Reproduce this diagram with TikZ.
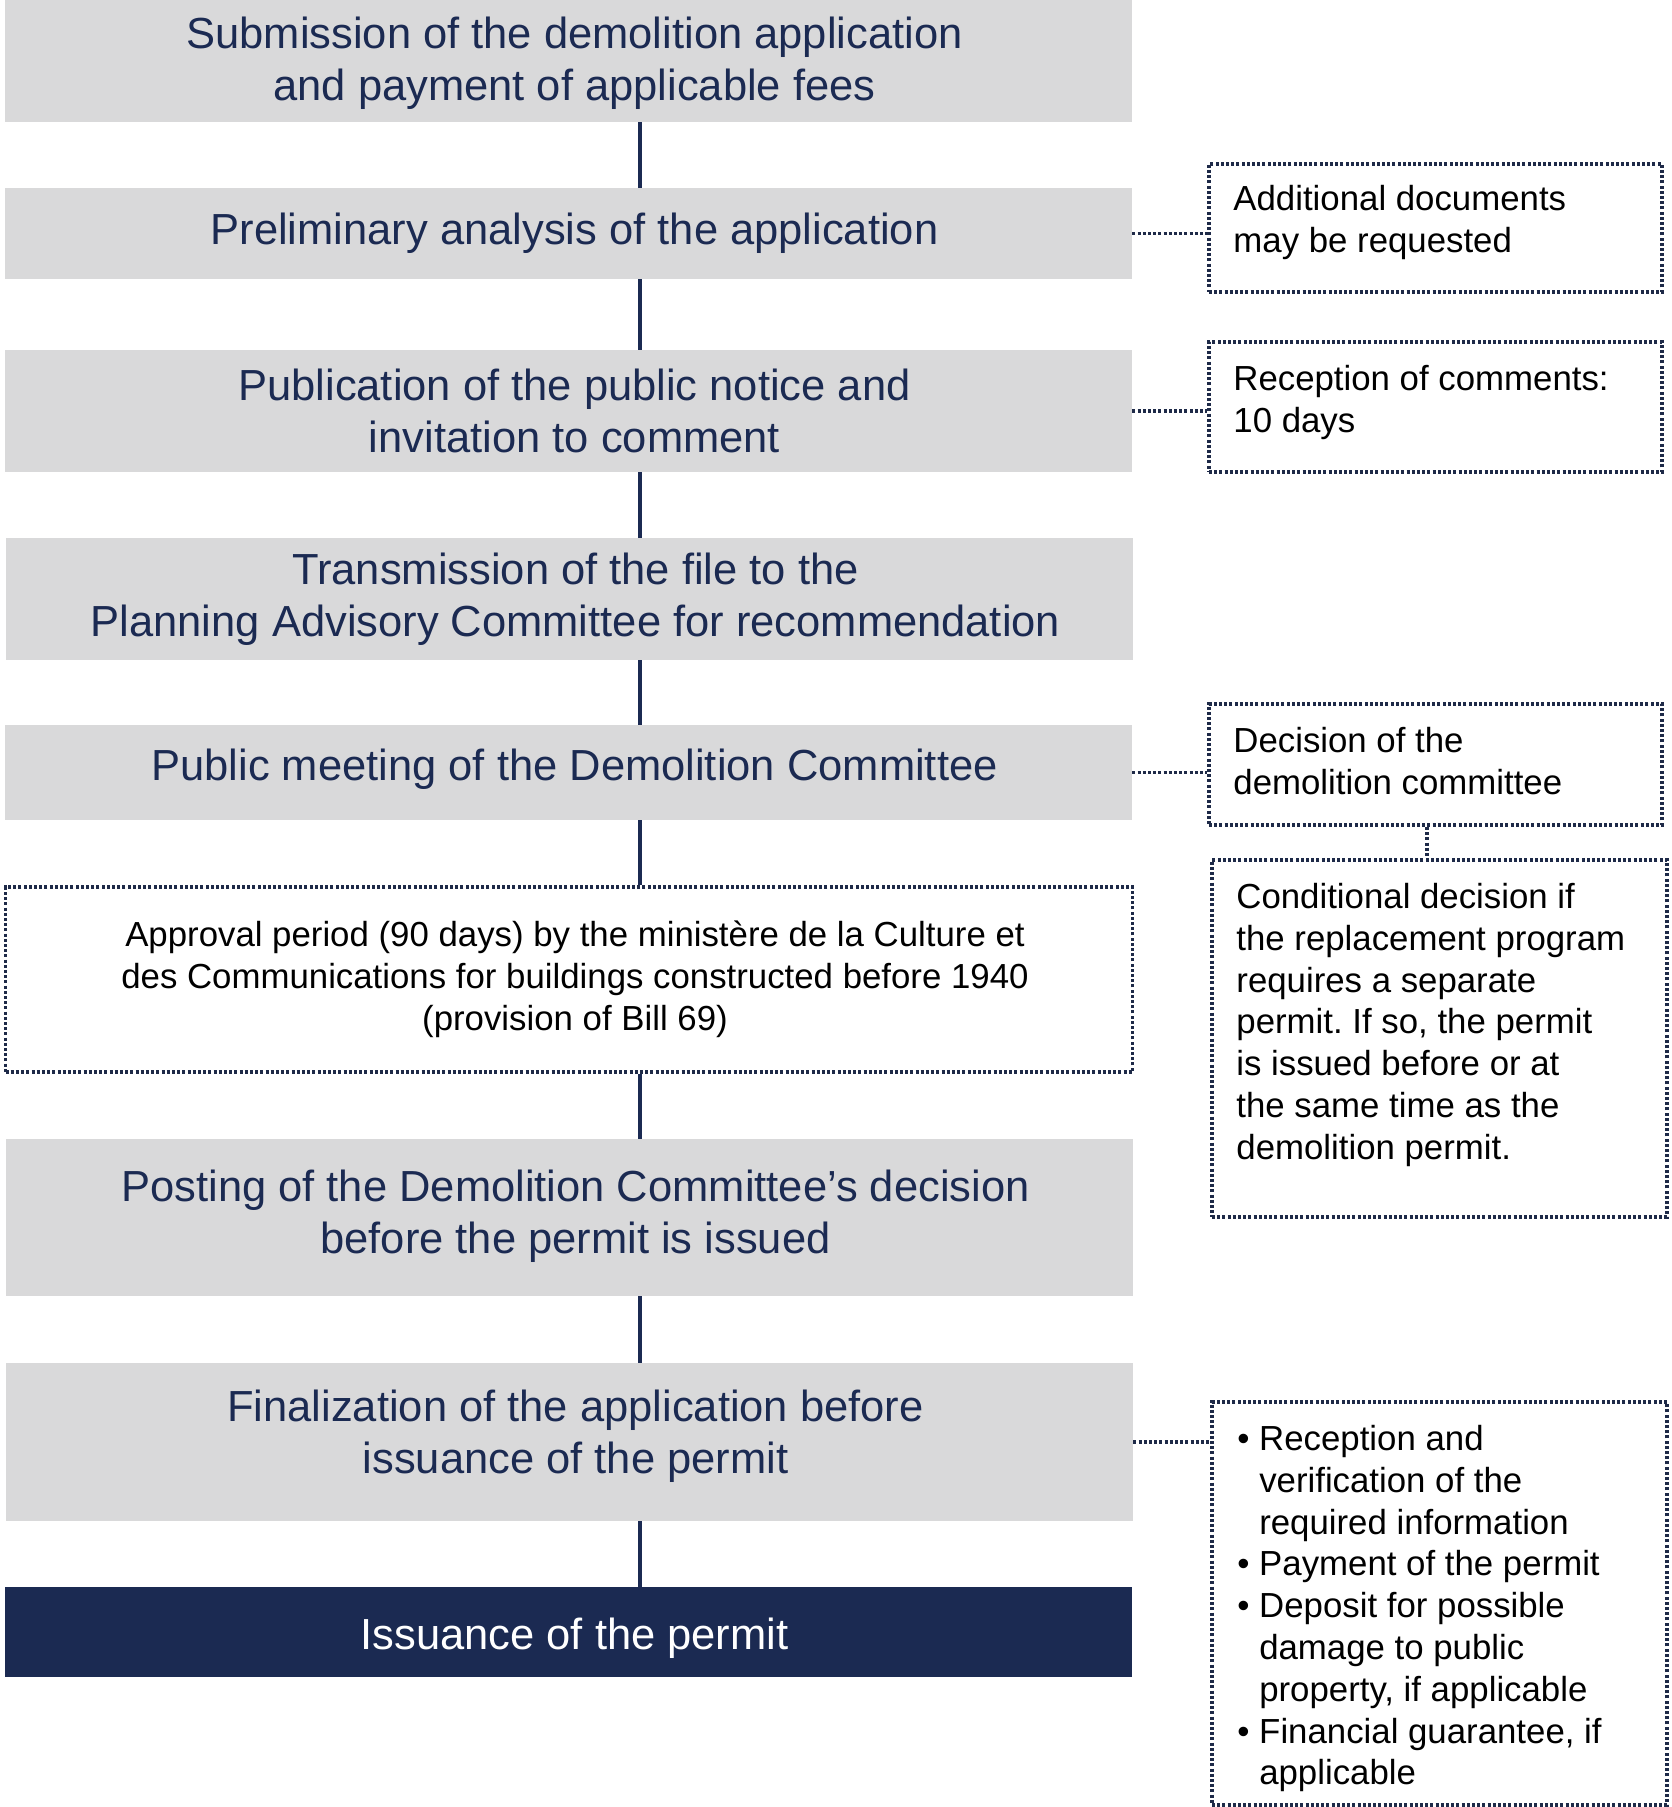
\documentclass[tikz,border=0pt]{standalone}
\usepackage{fontspec}
\setmainfont{Liberation Sans}
\definecolor{navy}{HTML}{1B2A52}
\definecolor{boxgray}{HTML}{D9D9DA}
\definecolor{dotcol}{HTML}{1E2A48}
\newcommand\myTopStrut{\rule{0pt}{17pt}}
\frenchspacing
\begin{document}
\begin{tikzpicture}[x=0.5pt,y=-0.5pt,
  mainbox/.style={rectangle, fill=boxgray, inner sep=0pt, minimum width=563.5pt},
  darkbox/.style={mainbox, fill=navy},
  maintext/.style={inner sep=0pt, text=navy, align=center, font=\fontsize{21.75pt}{26pt}\selectfont},
  dotline/.style={draw=dotcol, line width=1.9pt, dash pattern=on 1.5pt off 1.1pt},
  dotbox/.style={rectangle, dotline, inner sep=0pt},
  notebox/.style={dotbox, fill=none, minimum width=226.5pt},
  sidetext/.style={anchor=north west, inner sep=0pt, align=left, text=black,
    font=\fontsize{17.4pt}{20.9pt}\selectfont},
  conn/.style={draw=navy, line width=2pt}
]
\useasboundingbox (0,0) rectangle (1671,1807);
\coordinate (cx) at (640,0);
\coordinate (cy) at (1427,0);

% main boxes
\node[mainbox, minimum height=61pt] (B1) at (568.5,61) {};
\node[mainbox, minimum height=45.5pt] (B2) at (568.5,233.5) {};
\node[mainbox, minimum height=61pt] (B3) at (568.5,411) {};
\node[mainbox, minimum height=61pt] (B4) at (569.5,599) {};
\node[mainbox, minimum height=47.5pt] (B5) at (568.5,772.5) {};
\node[dotbox, minimum width=563.5pt, minimum height=92.5pt] (B6) at (569,979.5) {};
\node[mainbox, minimum height=78.5pt] (B7) at (569.5,1217.5) {};
\node[mainbox, minimum height=79pt] (B8) at (569.5,1442) {};
\node[darkbox, minimum height=45pt] (B9) at (568.5,1632) {};

% main texts
\node[maintext] (L1) at ([xshift=3pt,yshift=-1pt]B1.center) {Submission of the demolition application\\and payment of applicable fees};
\node[maintext] (L2) at ([xshift=3pt]B2.center) {Preliminary analysis of the application};
\node[maintext] (L3) at ([xshift=3pt]B3.center) {Publication of the public notice and\\invitation to comment};
\node[maintext] (L4) at ([xshift=3pt]B4.center) {Transmission of the file to the\\Planning Advisory Committee for recommendation};
\node[maintext] (L5) at ([xshift=3pt,yshift=1.8pt]B5.center) {Public meeting of the Demolition Committee};
\node[maintext, text=black, font=\fontsize{17.4pt}{21pt}\selectfont] (L6) at ([xshift=3pt]B6.center) {Approval period (90 days) by the ministère de la Culture et\\des Communications for buildings constructed before 1940\\(provision of Bill 69)};
\node[maintext] (L7) at ([xshift=3pt,yshift=0.5pt]B7.center) {Posting of the Demolition Committee’s decision\\before the permit is issued};
\node[maintext] (L8) at ([xshift=3pt,yshift=3pt]B8.center) {Finalization of the application before\\issuance of the permit};
\node[maintext, text=white] (L9) at ([xshift=3pt,yshift=-3pt]B9.center) {Issuance of the permit};

% vertical connectors
\draw[conn] (B1.south -| cx) -- (B2.north -| cx);
\draw[conn] (B2.south -| cx) -- (B3.north -| cx);
\draw[conn] (B3.south -| cx) -- (B4.north -| cx);
\draw[conn] (B4.south -| cx) -- (B5.north -| cx);
\draw[conn] (B5.south -| cx) -- (B6.north -| cx);
\draw[conn] (B6.south -| cx) -- (B7.north -| cx);
\draw[conn] (B7.south -| cx) -- (B8.north -| cx);
\draw[conn] (B8.south -| cx) -- (B9.north -| cx);

% side boxes
\node[notebox, minimum height=64pt] (S1) at (1435.5,228) {};
\node[notebox, minimum height=65pt] (S2) at (1435.5,407) {};
\node[notebox, minimum height=60.5pt] (S3) at (1435.5,764.5) {};
\node[notebox, minimum width=227.5pt, minimum height=178.5pt] (S4) at (1439.5,1038.5) {};
\node[notebox, minimum width=227.5pt, minimum height=201.5pt] (S5) at (1439.5,1603.5) {};

% side texts
\node[sidetext] (T1) at (1233,176) {\myTopStrut Additional documents\\may be requested};
\node[sidetext] (T2) at (1233,356) {\myTopStrut Reception of comments:\\10 days};
\node[sidetext] (T3) at (1233,718) {\myTopStrut Decision of the\\demolition committee};
\node[sidetext] (T4) at (1236,874) {\myTopStrut Conditional decision if\\the replacement program\\requires a separate\\permit. If so, the permit\\is issued before or at\\the same time as the\\demolition permit.};
\node[sidetext] (T5) at (1237,1416) {\myTopStrut\textbullet\ Reception and\\
\phantom{\textbullet\ }verification of the\\
\phantom{\textbullet\ }required information\\
\textbullet\ Payment of the permit\\
\textbullet\ Deposit for possible\\
\phantom{\textbullet\ }damage to public\\
\phantom{\textbullet\ }property, if applicable\\
\textbullet\ Financial guarantee, if\\
\phantom{\textbullet\ }applicable};

% dotted connectors
\draw[dotline] (B2.east) -- (B2.east -| S1.west);
\draw[dotline] (B3.east) -- (B3.east -| S2.west);
\draw[dotline] (B5.east) -- (B5.east -| S3.west);
\draw[dotline] (B8.east) -- (B8.east -| S5.west);
\draw[dotline] (S3.south -| cy) -- (S4.north -| cy);
\end{tikzpicture}
\end{document}
